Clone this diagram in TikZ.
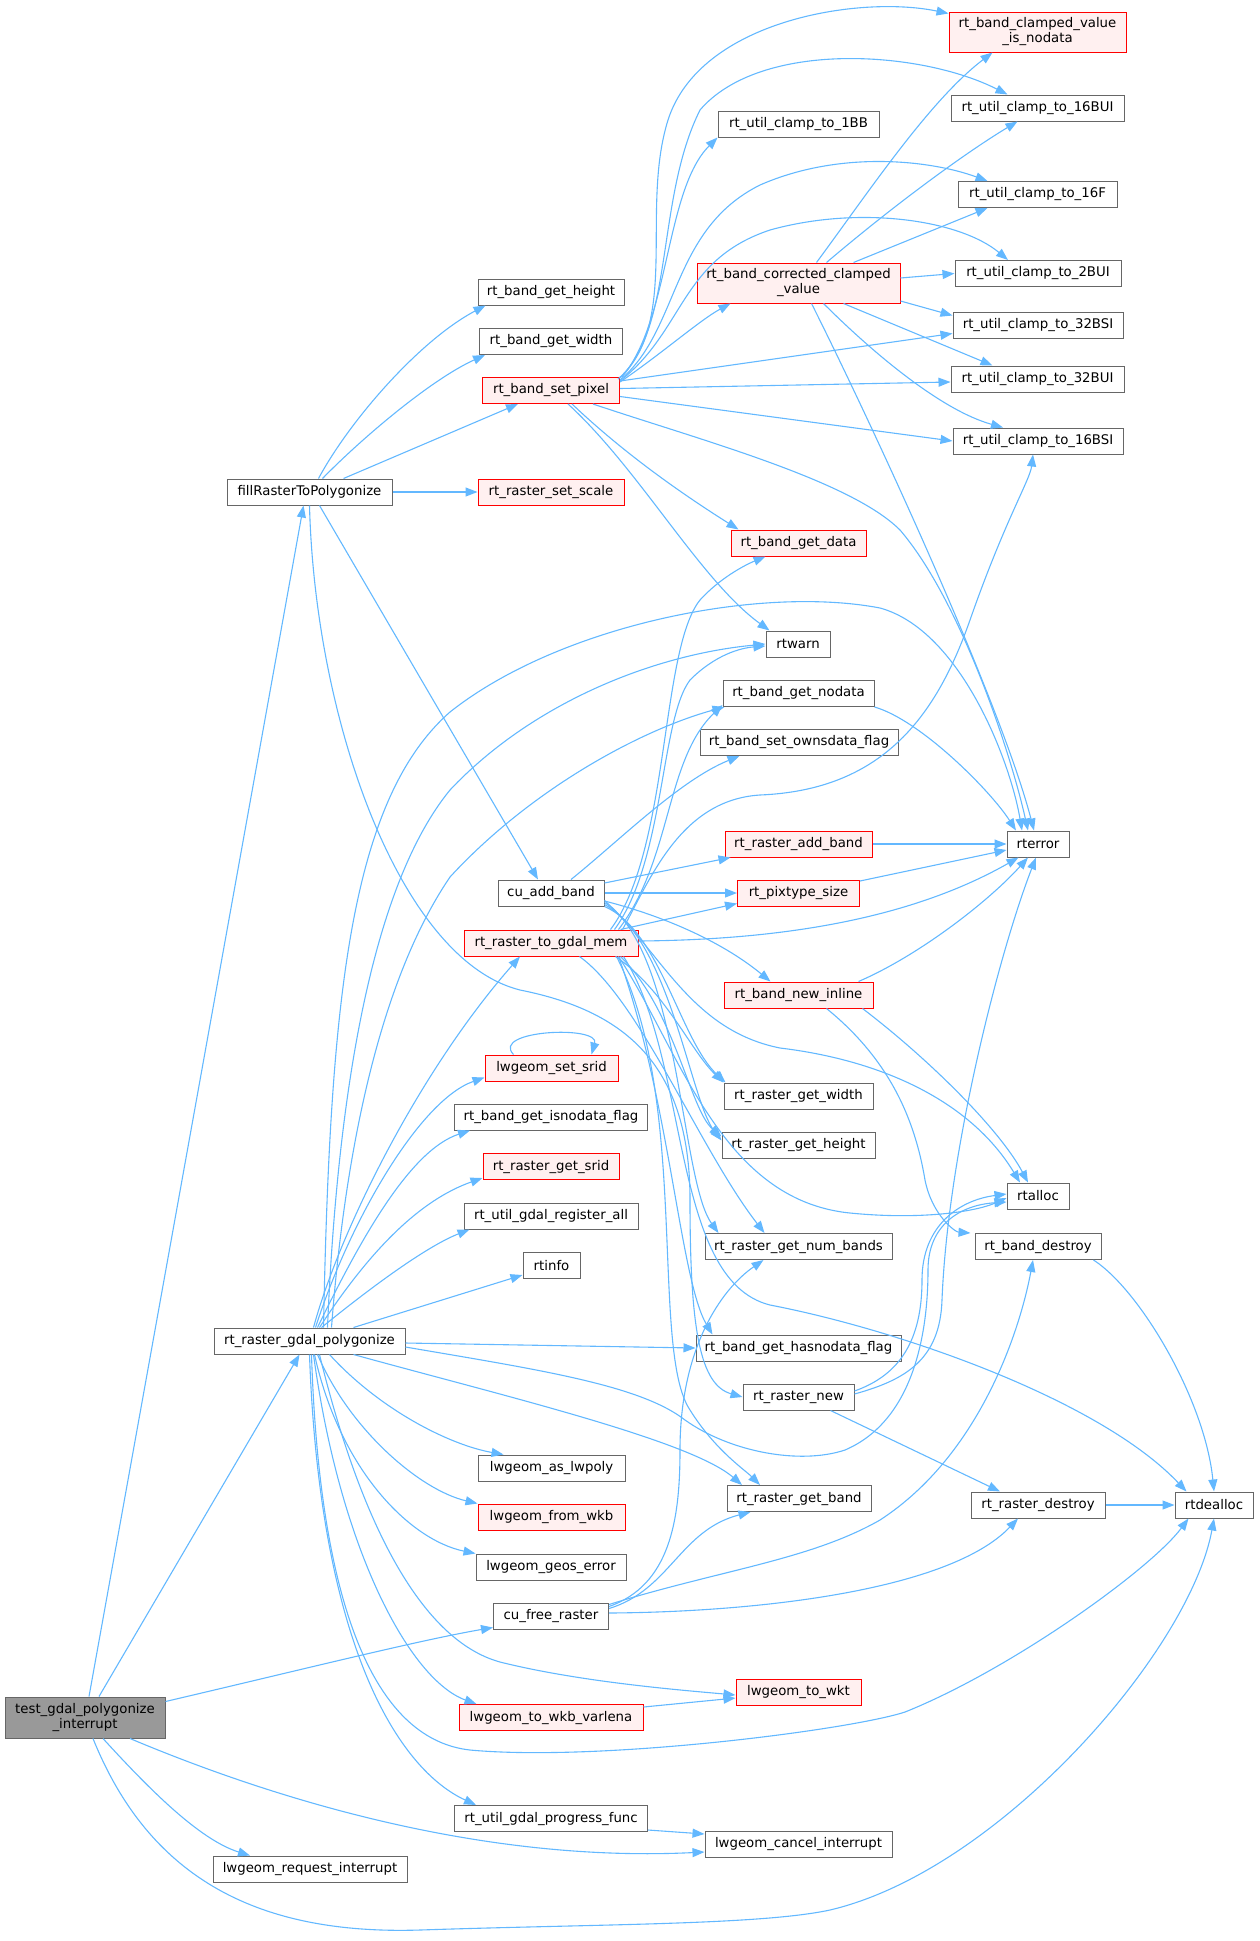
\documentclass[tikz,border=0pt]{standalone}
\usepackage{fontspec}
\setmainfont{DejaVu Sans}
\usetikzlibrary{arrows.meta}
\definecolor{edgeblue}{HTML}{63B8FF}
\definecolor{nodegrey}{HTML}{666666}
\definecolor{redfill}{HTML}{FFF0F0}
\definecolor{rootfill}{HTML}{999999}
\begin{document}
\begin{tikzpicture}[x=1pt,y=-1pt,
  nb/.style={draw=nodegrey, fill=white, line width=1pt, inner sep=0pt, minimum height=26pt, align=center, font=\fontsize{13.3pt}{15pt}\selectfont},
  nr/.style={nb, draw=red, fill=redfill},
  conn/.style={draw=edgeblue, line width=1.1pt, -{Triangle[length=12pt,width=9pt]}}]
\useasboundingbox (0,0) rectangle (1259,1941);
% column 0/1
\node[nb, fill=rootfill, minimum width=160pt, minimum height=41pt] (T) at (85,1717.5) {test\_gdal\_polygonize\\\_interrupt};
\node[nb, minimum width=165pt] (F) at (309.5,492) {fillRasterToPolygonize};
\node[nb, minimum width=191pt] (P) at (309.5,1341) {rt\_raster\_gdal\_polygonize};
\node[nb, minimum width=194pt] (LRI) at (310,1869) {lwgeom\_request\_interrupt};
% column 2
\node[nb, minimum width=146pt] (gh) at (551,292) {rt\_band\_get\_height};
\node[nb, minimum width=143pt] (gw) at (551,341.5) {rt\_band\_get\_width};
\node[nr, minimum width=137pt] (sp) at (551,390.5) {rt\_band\_set\_pixel};
\node[nr, minimum width=146pt] (ss) at (551,492) {rt\_raster\_set\_scale};
\node[nb, minimum width=106pt] (cu) at (551,893) {cu\_add\_band};
\node[nr, minimum width=174pt] (M) at (551,943) {rt\_raster\_to\_gdal\_mem};
\node[nr, minimum width=133pt] (lss) at (551.5,1068) {lwgeom\_set\_srid};
\node[nb, minimum width=193pt] (isn) at (551,1117) {rt\_band\_get\_isnodata\_flag};
\node[nr, minimum width=136pt] (rgs) at (551,1166.5) {rt\_raster\_get\_srid};
\node[nb, minimum width=174pt] (reg) at (551,1216) {rt\_util\_gdal\_register\_all};
\node[nb, minimum width=57pt] (info) at (551.5,1265.5) {rtinfo};
\node[nb, minimum width=147pt] (lwp) at (551.5,1468) {lwgeom\_as\_lwpoly};
\node[nr, minimum width=147pt] (fwkb) at (551.5,1517) {lwgeom\_from\_wkb};
\node[nb, minimum width=150pt] (geos) at (551,1567) {lwgeom\_geos\_error};
\node[nb, minimum width=115pt] (cf) at (551,1616) {cu\_free\_raster};
\node[nr, minimum width=184pt] (wkbv) at (551,1717.5) {lwgeom\_to\_wkb\_varlena};
\node[nb, minimum width=193pt] (prog) at (551,1818.5) {rt\_util\_gdal\_progress\_func};
% column 3
\node[nb, minimum width=161pt] (bb1) at (798.5,124) {rt\_util\_clamp\_to\_1BB};
\node[nr, minimum width=203pt, minimum height=40pt] (corr) at (798.5,283) {rt\_band\_corrected\_clamped\\\_value};
\node[nr, minimum width=135pt] (gd) at (798.5,543) {rt\_band\_get\_data};
\node[nb, minimum width=64pt] (warn) at (798,644) {rtwarn};
\node[nb, minimum width=151pt] (gnd) at (798.5,693.5) {rt\_band\_get\_nodata};
\node[nb, minimum width=198pt] (own) at (799,742.5) {rt\_band\_set\_ownsdata\_flag};
\node[nr, minimum width=147pt] (rab) at (798.5,844) {rt\_raster\_add\_band};
\node[nr, minimum width=122pt] (pix) at (798.5,893) {rt\_pixtype\_size};
\node[nr, minimum width=149pt] (bni) at (798.5,995) {rt\_band\_new\_inline};
\node[nb, minimum width=149pt] (rw) at (798.5,1096) {rt\_raster\_get\_width};
\node[nb, minimum width=153pt] (rh) at (798.5,1145.5) {rt\_raster\_get\_height};
\node[nb, minimum width=187pt] (rnb) at (798.5,1246.5) {rt\_raster\_get\_num\_bands};
\node[nb, minimum width=205pt] (hnd) at (798.5,1348) {rt\_band\_get\_hasnodata\_flag};
\node[nb, minimum width=111pt] (rn) at (798.5,1397) {rt\_raster\_new};
\node[nb, minimum width=144pt] (rgb) at (799,1498.5) {rt\_raster\_get\_band};
\node[nr, minimum width=125pt] (wkt) at (798.5,1692) {lwgeom\_to\_wkt};
\node[nb, minimum width=187pt] (cancel) at (798.5,1844) {lwgeom\_cancel\_interrupt};
% column 4
\node[nr, minimum width=177pt, minimum height=40pt] (cvn) at (1037.5,32) {rt\_band\_clamped\_value\\\_is\_nodata};
\node[nb, minimum width=173pt] (u16) at (1037.5,108) {rt\_util\_clamp\_to\_16BUI};
\node[nb, minimum width=159pt] (f16) at (1037.5,194.5) {rt\_util\_clamp\_to\_16F};
\node[nb, minimum width=166pt] (b2) at (1038,273.5) {rt\_util\_clamp\_to\_2BUI};
\node[nb, minimum width=170pt] (s32) at (1038,325.5) {rt\_util\_clamp\_to\_32BSI};
\node[nb, minimum width=173pt] (u32) at (1037.5,379) {rt\_util\_clamp\_to\_32BUI};
\node[nb, minimum width=170pt] (s16) at (1038,441) {rt\_util\_clamp\_to\_16BSI};
\node[nb, minimum width=62pt] (err) at (1038,844) {rterror};
\node[nb, minimum width=62pt] (alloc) at (1038,1196) {rtalloc};
\node[nb, minimum width=126pt] (bd) at (1038,1246.5) {rt\_band\_destroy};
\node[nb, minimum width=134pt] (rd) at (1038,1505) {rt\_raster\_destroy};
\node[nb, minimum width=78pt] (dealloc) at (1214,1505) {rtdealloc};

% ---- edges from T
\draw[conn] ([xshift=4pt]T.north) -- ([xshift=-6pt]F.south);
\draw[conn] ([xshift=14pt]T.north) -- ([xshift=-10pt]P.south);
\draw[conn] ([yshift=-5pt]T.north east) .. controls (300,1670) and (420,1640) .. ([yshift=2pt]cf.south west);
\draw[conn] ([xshift=18pt]T.south) .. controls (150,1790) and (200,1840) .. ([xshift=-60pt]LRI.north);
\draw[conn] ([xshift=45pt]T.south) .. controls (300,1810) and (500,1862) .. ([yshift=-8pt]cancel.west);
\draw[conn] ([xshift=8pt]T.south) .. controls (150,1880) and (260,1935) .. (420,1930) .. controls (600,1924) and (760,1925) .. (830,1910) .. controls (1000,1870) and (1190,1650) .. (dealloc.south);
% ---- edges from F
\draw[conn] ([xshift=9pt]F.north) .. controls (350,420) and (420,340) .. ([xshift=8pt]gh.south west);
\draw[conn] ([xshift=13pt]F.north) .. controls (360,440) and (430,380) .. ([xshift=6pt]gw.south west);
\draw[conn] ([xshift=34pt]F.north) -- ([xshift=36pt]sp.south west);
\draw[conn] (F.east) -- (ss.west);
\draw[conn] ([xshift=10pt]F.south) -- ([xshift=-13pt]cu.north);
\draw[conn] (F.south) .. controls (315,720) and (400,960) .. (520,990) .. controls (620,1010) and (690,1060) .. (690,1200) .. controls (690,1330) and (700,1385) .. (rn.west);
% ---- edges from P
\draw[conn] ([xshift=14pt]P.north) .. controls (330,1000) and (350,800) .. (450,712) .. controls (560,625) and (760,585) .. (880,608) .. controls (960,630) and (1010,760) .. ([xshift=-16pt]err.north);
\draw[conn] ([xshift=18pt]P.north) .. controls (335,1150) and (360,900) .. (450,790) .. controls (530,705) and (650,655) .. (warn.west);
\draw[conn] ([xshift=22pt]P.north) .. controls (345,1150) and (380,980) .. (450,877) .. controls (530,790) and (640,730) .. ([xshift=2pt]gnd.south west);
\draw[conn] ([xshift=4pt]P.north) .. controls (340,1230) and (420,1070) .. ([xshift=-31pt]M.south);
\draw[conn] ([xshift=6pt]P.north) .. controls (350,1220) and (420,1100) .. ([yshift=4pt]lss.south west);
\draw[conn] ([xshift=8pt]P.north) .. controls (360,1240) and (410,1150) .. ([xshift=16pt]isn.south west);
\draw[conn] ([xshift=10pt]P.north) .. controls (370,1250) and (420,1200) .. ([yshift=2pt]rgs.south west);
\draw[conn] ([xshift=12pt]P.north) .. controls (380,1280) and (430,1245) .. ([xshift=6pt]reg.south west);
\draw[conn] ([xshift=44pt]P.north) -- ([yshift=4pt]info.south west);
\draw[conn] ([yshift=-2pt]P.east) -- (hnd.west);
\draw[conn] ([yshift=-6pt]P.east) .. controls (540,1370) and (640,1385) .. (685,1420) .. controls (730,1452) and (800,1465) .. (845,1450) .. controls (915,1420) and (928,1330) .. (928,1270) .. controls (928,1225) and (960,1205) .. ([yshift=-6pt]alloc.west);
\draw[conn] ([xshift=44pt]P.south) .. controls (500,1395) and (690,1440) .. ([xshift=-57pt]rgb.north);
\draw[conn] ([xshift=20pt]P.south) .. controls (380,1410) and (450,1445) .. ([xshift=-48pt]lwp.north);
\draw[conn] ([xshift=8pt]P.south) .. controls (350,1430) and (420,1490) .. (fwkb.north west);
\draw[conn] ([xshift=5pt]P.south) .. controls (340,1470) and (410,1540) .. (geos.north west);
\draw[conn] ([xshift=10pt]P.south) .. controls (360,1520) and (420,1640) .. (500,1662) .. controls (580,1682) and (680,1690) .. ([yshift=-3pt]wkt.west);
\draw[conn] ([xshift=4pt]P.south) .. controls (340,1550) and (410,1680) .. ([xshift=18pt]wkbv.north west);
\draw[conn] ([xshift=2pt]P.south) .. controls (320,1620) and (380,1740) .. (470,1750) .. controls (600,1762) and (850,1730) .. (905,1712) .. controls (1010,1670) and (1150,1570) .. ([xshift=14pt]dealloc.south west);
\draw[conn] (P.south) .. controls (320,1650) and (400,1770) .. ([xshift=22pt]prog.north west);
% ---- edges from set_pixel
\draw[conn] ([yshift=-1pt]sp.north east) .. controls (680,320) and (640,210) .. (668,120) .. controls (700,20) and (860,-5) .. ([yshift=-2pt]cvn.north west);
\draw[conn] ([xshift=-2pt,yshift=-2pt]sp.north east) .. controls (675,330) and (655,200) .. (700,110) .. controls (760,40) and (920,50) .. ([xshift=-30pt]u16.north);
\draw[conn] ([xshift=2pt]sp.north east) .. controls (670,320) and (665,190) .. (bb1.south west);
\draw[conn] ([yshift=-3pt]sp.north east) .. controls (680,330) and (670,230) .. (760,185) .. controls (840,150) and (930,160) .. ([xshift=-50pt]f16.north);
\draw[conn] ([yshift=-4pt]sp.north east) .. controls (685,330) and (680,260) .. (770,230) .. controls (860,205) and (960,220) .. ([xshift=-30pt]b2.north);
\draw[conn] ([yshift=-5pt]sp.north east) .. controls (660,355) and (700,320) .. ([xshift=34pt]corr.south west);
\draw[conn] ([yshift=-4pt]sp.north east) -- ([yshift=-8pt]s32.west);
\draw[conn] ([yshift=2pt]sp.east) -- ([yshift=-3pt]u32.west);
\draw[conn] ([yshift=-6pt]sp.east) -- (s16.west);
\draw[conn] ([xshift=-27pt]sp.south east) .. controls (700,440) and (850,480) .. (900,530) .. controls (960,600) and (1010,750) .. ([xshift=-10pt]err.north);
\draw[conn] ([xshift=-48pt]sp.south east) .. controls (610,440) and (660,480) .. ([xshift=8pt]gd.north west);
\draw[conn] ([xshift=-52pt]sp.south east) .. controls (640,470) and (700,580) .. ([xshift=4pt]warn.north west);
% ---- edges from corrected
\draw[conn] ([xshift=18pt]corr.north) .. controls (870,190) and (930,100) .. ([xshift=-45pt]cvn.south);
\draw[conn] ([xshift=28pt]corr.north) .. controls (900,200) and (970,150) .. ([xshift=-20pt]u16.south);
\draw[conn] ([xshift=55pt]corr.north) -- ([xshift=-50pt]f16.south);
\draw[conn] ([yshift=5pt]corr.east) -- (b2.west);
\draw[conn] ([yshift=-18pt]corr.east) -- ([yshift=10pt]s32.west);
\draw[conn] ([xshift=45pt]corr.south) -- ([xshift=-45pt]u32.north);
\draw[conn] ([xshift=25pt]corr.south) .. controls (870,350) and (940,410) .. ([xshift=-35pt]s16.north);
\draw[conn] ([xshift=13pt]corr.south) .. controls (870,420) and (1000,700) .. ([xshift=-4pt]err.north);
% ---- into rterror
\draw[conn] (gnd.south east) .. controls (920,720) and (990,790) .. ([xshift=-22pt]err.north);
\draw[conn] (rab.east) -- (err.west);
\draw[conn] ([yshift=12pt]pix.east) -- ([yshift=-6pt]err.west);
\draw[conn] ([yshift=2pt]M.east) .. controls (760,940) and (900,925) .. ([xshift=12pt]err.south west);
\draw[conn] ([xshift=60pt]bni.north) .. controls (920,955) and (990,900) .. ([xshift=-10pt]err.south);
\draw[conn] ([yshift=3pt]rn.east) .. controls (905,1380) and (940,1360) .. (942,1300) .. controls (948,1150) and (1000,950) .. ([xshift=-2pt]err.south);
% ---- rt_raster_new
\draw[conn] ([yshift=6pt]rn.east) .. controls (900,1375) and (922,1340) .. (922,1280) .. controls (922,1225) and (960,1200) .. ([yshift=2pt]alloc.west);
\draw[conn] ([xshift=-24pt]rn.south east) -- ([xshift=-38pt]rd.north);
\draw[conn] (rd.east) -- (dealloc.west);
\draw[conn] ([xshift=-8pt]bd.south east) .. controls (1140,1290) and (1205,1400) .. (dealloc.north);
% ---- cu_add_band
\draw[conn] ([xshift=20pt]cu.north) .. controls (620,840) and (680,780) .. ([xshift=40pt]own.south west);
\draw[conn] ([yshift=10pt]cu.east) -- ([xshift=6pt]rab.south west);
\draw[conn] (cu.east) -- (pix.west);
\draw[conn] ([yshift=-8pt]cu.east) .. controls (660,915) and (720,940) .. ([xshift=-28pt]bni.north);
\draw[conn] (cu.south east) .. controls (660,930) and (680,1040) .. ([xshift=2pt]rw.north west);
\draw[conn] ([yshift=2pt]cu.south east) .. controls (670,940) and (690,1100) .. ([yshift=5pt]rh.west);
\draw[conn] ([yshift=4pt]cu.south east) .. controls (680,950) and (680,1180) .. ([xshift=14pt]rnb.north west);
\draw[conn] ([yshift=6pt]cu.south east) .. controls (660,950) and (690,1030) .. (780,1048) .. controls (880,1060) and (970,1100) .. ([xshift=-18pt]alloc.north);
% ---- rt_raster_to_gdal_mem
\draw[conn] ([xshift=-18pt]M.north east) -- ([yshift=3pt]pix.south west);
\draw[conn] ([xshift=-16pt]M.north east) .. controls (650,880) and (680,800) .. (760,795) .. controls (880,790) and (935,720) .. (970,620) .. controls (1005,520) and (1030,480) .. ([xshift=-5pt]s16.south);
\draw[conn] ([xshift=-28pt]M.north east) .. controls (670,850) and (660,650) .. (700,600) .. controls (720,578) and (745,565) .. ([xshift=-33pt]gd.south);
\draw[conn] ([xshift=-24pt]M.north east) .. controls (665,860) and (660,720) .. (690,680) .. controls (715,655) and (740,648) .. ([yshift=-2pt]warn.west);
\draw[conn] ([xshift=-20pt]M.north east) .. controls (672,860) and (665,760) .. ([yshift=2pt]gnd.south west);
\draw[conn] ([xshift=-23pt]M.south east) .. controls (665,990) and (690,1050) .. (rw.north west);
\draw[conn] ([xshift=-18pt]M.south east) .. controls (675,1010) and (690,1110) .. ([yshift=9pt]rh.west);
\draw[conn] ([xshift=-59pt]M.south east) .. controls (640,1000) and (700,1150) .. ([xshift=-34pt]rnb.north);
\draw[conn] ([xshift=-20pt]M.south east) .. controls (670,1100) and (680,1280) .. ([xshift=17pt]hnd.north west);
\draw[conn] ([xshift=-22pt]M.south east) .. controls (690,1100) and (650,1350) .. (690,1410) .. controls (715,1450) and (745,1470) .. ([xshift=-39pt]rgb.north);
\draw[conn] ([xshift=-15pt]M.south east) .. controls (690,1060) and (670,1280) .. (770,1305) .. controls (900,1330) and (1100,1400) .. ([xshift=12pt]dealloc.north west);
\draw[conn] ([xshift=-20pt]M.south east) .. controls (680,1050) and (720,1200) .. (850,1213) .. controls (920,1220) and (975,1212) .. ([yshift=-2pt]alloc.west);
% ---- rt_band_new_inline
\draw[conn] ([xshift=64pt]bni.south) .. controls (930,1060) and (1000,1130) .. ([xshift=-10pt]alloc.north);
\draw[conn] ([xshift=28pt]bni.south) .. controls (890,1060) and (915,1120) .. (925,1180) .. controls (932,1215) and (955,1232) .. ([xshift=-4pt]bd.north west);
% ---- cu_free_raster
\draw[conn] ([yshift=-4pt]cf.north east) .. controls (670,1585) and (680,1520) .. (680,1450) .. controls (680,1350) and (720,1290) .. ([xshift=-35pt]rnb.south);
\draw[conn] ([yshift=-6pt]cf.north east) .. controls (670,1590) and (680,1530) .. ([xshift=24pt]rgb.south west);
\draw[conn] ([yshift=-2pt]cf.north east) .. controls (720,1570) and (810,1560) .. (880,1520) .. controls (980,1455) and (1020,1330) .. ([xshift=-5pt]bd.south);
\draw[conn] ([yshift=3pt]cf.east) .. controls (760,1612) and (950,1590) .. ([xshift=-20pt]rd.south);
% ---- others
\draw[conn] ([yshift=-3pt]wkbv.north east) -- ([yshift=-6pt]wkt.west);
\draw[conn] ([yshift=2pt]prog.south east) -- ([yshift=10pt]cancel.west);
\draw[conn] ([xshift=-38pt]lss.north) .. controls (490,1030) and (600,1025) .. ([xshift=40pt]lss.north);
\end{tikzpicture}
\end{document}
